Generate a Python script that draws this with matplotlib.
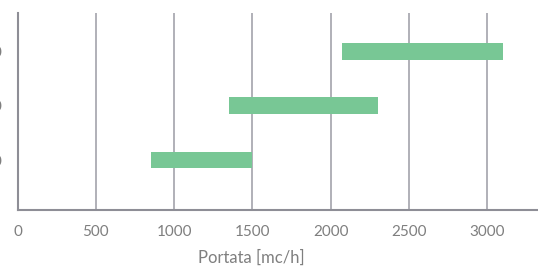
import matplotlib.pyplot as plt

plt.rcParams['font.family'] = ['Lato', 'DejaVu Sans']

categories = ['DN100', 'DN150', 'DN200']
start = [850, 1350, 2070]
end = [1500, 2300, 3100]
xticks = [0, 500, 1000, 1500, 2000, 2500, 3000]

W, H = 538, 268
fig = plt.figure(figsize=(W / 100, H / 100), dpi=100)
ax = fig.add_axes([17.5 / W, (H - 210) / H, 1 - 17.5 / W, (210 - 13) / H])

pos = list(range(len(categories)))
widths = [e - s for s, e in zip(start, end)]
ax.barh(pos, widths, left=start, height=0.31, color='#78C795', zorder=3)

ax.set_xlim(0, 3325)
ax.set_ylim(-0.92, 2.71)
ax.set_xticks(xticks)
ax.set_yticks(pos)
ax.set_yticklabels(categories)

ax.grid(axis='x', color='#A3A3AB', linewidth=1.2, zorder=0)
for s in ['top', 'right']:
    ax.spines[s].set_visible(False)
for s in ['left', 'bottom']:
    ax.spines[s].set_color('#8E8E96')
    ax.spines[s].set_linewidth(1.5)

ax.tick_params(axis='both', length=0, colors='#7F7F7F', labelsize=11)
ax.tick_params(axis='x', pad=11)
ax.tick_params(axis='y', pad=10.5)
ax.set_xlabel('Portata [mc/h]', color='#7F7F7F', fontsize=12)
ax.xaxis.set_label_coords(0.449, -0.2)

fig.savefig('out.png', dpi=100)
